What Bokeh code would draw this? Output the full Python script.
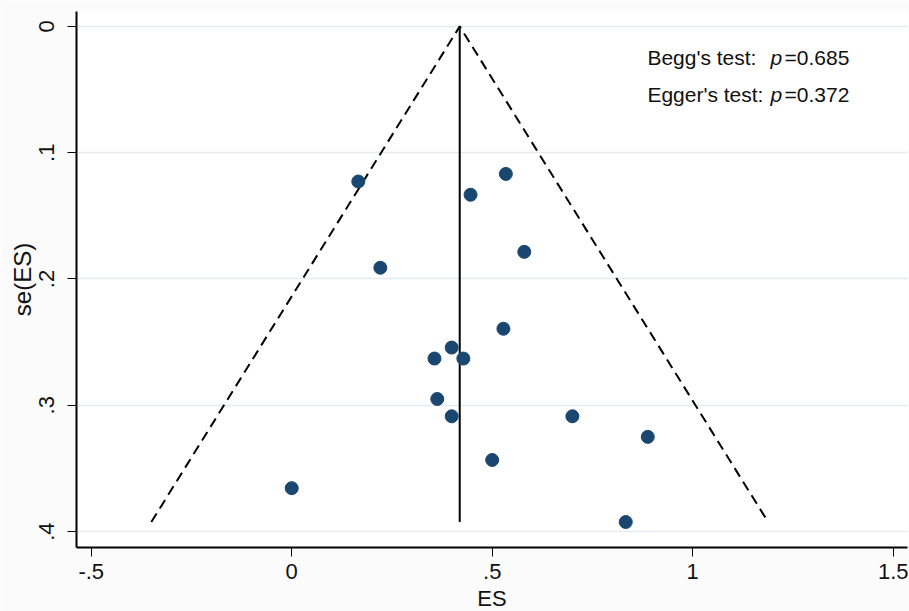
from bokeh.plotting import figure
from bokeh.models import Range1d, FixedTicker, Label
from bokeh.embed import file_html
from bokeh.resources import INLINE

# ---- data ----
es = [0.166, 0.534, 0.446, 0.580, 0.221, 0.528, 0.399, 0.356, 0.428,
      0.363, 0.399, 0.700, 0.888, 0.500, 0.000, 0.833]
se = [0.1228, 0.1168, 0.1333, 0.1785, 0.1911, 0.2394, 0.2543, 0.2630, 0.2630,
      0.2950, 0.3087, 0.3087, 0.3250, 0.3433, 0.3656, 0.3924]
pooled_es = 0.419
z = 1.96
x_ticks = [-0.5, 0, 0.5, 1, 1.5]
x_tick_labels = ["-.5", "0", ".5", "1", "1.5"]
y_ticks = [0, 0.1, 0.2, 0.3, 0.4]
y_tick_labels = ["0", ".1", ".2", ".3", ".4"]
begg_p = "0.685"
egger_p = "0.372"

FONT = "Liberation Sans"
NAVY = "#1a476f"

p = figure(width=909, height=613, output_backend="svg", toolbar_location=None,
           x_range=Range1d(-0.5367, 1.5357), y_range=Range1d(0.4126, -0.0118),
           min_border_left=76, min_border_right=2, min_border_top=11, min_border_bottom=60)
p.outline_line_color = None
p.background_fill_color = "#ffffff"
p.border_fill_color = "#fbfbfc"

# axes
for ax in (p.xaxis[0], p.yaxis[0]):
    ax.axis_line_width = 2
    ax.axis_line_color = "black"
    ax.major_tick_line_color = "black"
    ax.major_tick_line_width = 1
    ax.major_tick_in = 0
    ax.major_tick_out = 9
    ax.minor_tick_line_color = None
    ax.major_label_text_font = FONT
    ax.major_label_text_font_size = "22px"
    ax.major_label_text_color = "#111111"
    ax.axis_label_text_font = FONT
    ax.axis_label_text_font_size = "22px"
    ax.axis_label_text_font_style = "normal"
    ax.axis_label_text_color = "#111111"

p.xaxis.major_label_standoff = 7
p.xaxis.axis_label_standoff = 4
p.yaxis.major_label_standoff = 13
p.yaxis.axis_label_standoff = 1
p.yaxis.axis_label_text_font_size = "24px"

p.xaxis.ticker = FixedTicker(ticks=x_ticks)
p.xaxis.major_label_overrides = {t: l for t, l in zip(x_ticks, x_tick_labels)}
p.yaxis.ticker = FixedTicker(ticks=y_ticks)
p.yaxis.major_label_overrides = {t: l for t, l in zip(y_ticks, y_tick_labels)}
p.yaxis.major_label_orientation = "vertical"
p.xaxis.axis_label = "ES"
p.yaxis.axis_label = "se(ES)"

p.xgrid.grid_line_color = None
p.ygrid.grid_line_color = "#e2ebf1"
p.ygrid.grid_line_width = 1.5

# funnel
se_max = max(se)
p.line([pooled_es - z * se_max, pooled_es, pooled_es + z * se_max], [se_max, 0, se_max],
       line_color="black", line_width=2, line_dash="10 6")
p.line([pooled_es, pooled_es], [0, se_max], line_color="black", line_width=2)

# points
p.scatter(es, se, size=13, fill_color=NAVY, line_color=NAVY)

# annotations
def add_line(label, pval, y):
    p.add_layout(Label(x=0.887, y=y, text=label, text_font=FONT, text_font_size="21px",
                       text_color="#111111", text_baseline="alphabetic", text_align="left"))
    p.add_layout(Label(x=1.194, y=y, text="p", text_font=FONT, text_font_size="21px",
                       text_font_style="italic",
                       text_color="#111111", text_baseline="alphabetic", text_align="left"))
    p.add_layout(Label(x=1.229, y=y, text="=" + pval, text_font=FONT, text_font_size="21px",
                       text_color="#111111", text_baseline="alphabetic", text_align="left"))

add_line("Begg's test:", begg_p, 0.0250)
add_line("Egger's test:", egger_p, 0.0542)

open("out.html", "w").write(file_html(p, INLINE))
